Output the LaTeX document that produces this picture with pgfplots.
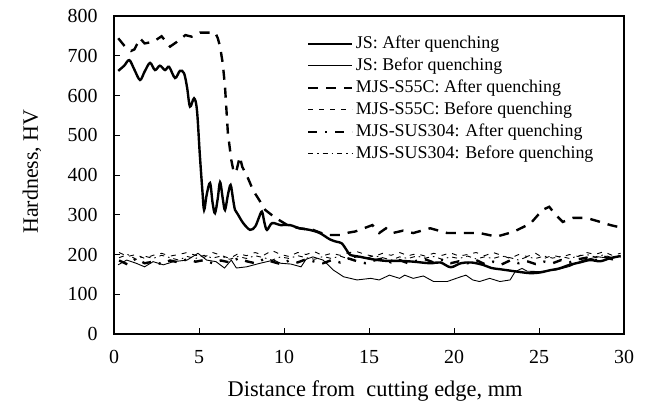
\documentclass[border=0pt]{standalone}
\usepackage{fontspec}
\setmainfont{Liberation Serif}
\usepackage{pgfplots}
\pgfplotsset{compat=1.18}
\begin{document}
\begin{tikzpicture}
\begin{axis}[
 at={(0,0)}, anchor=south west,
 scale only axis, width=510bp, height=318bp,
 xmin=0, xmax=30, ymin=0, ymax=800,
 xtick={0,5,...,30}, ytick={0,100,...,800},
 tick align=inside, xtick pos=bottom, ytick pos=left,
 major tick length=6bp,
 axis line style={line width=1.1pt},
 tick style={line width=1pt, black},
 /pgf/number format/assume math mode=true,
 ticklabel style={font=\fontsize{20}{24}\selectfont},
 xticklabel style={yshift=-13bp},
 yticklabel style={xshift=-13bp},
 xlabel={Distance from\ \ cutting edge, mm},
 ylabel={Hardness, HV},
 every axis x label/.style={at={(axis description cs:0.512,-0.179)}, anchor=center, font=\fontsize{22.5}{27}\selectfont},
 every axis y label/.style={at={(axis description cs:-0.161,0.511)}, rotate=90, anchor=center, font=\fontsize{22}{26}\selectfont},
 legend style={at={(rel axis cs:0.378,0.948)}, anchor=north west, draw=none, fill=none,
   font=\fontsize{18}{21.6}\selectfont, inner sep=0pt,
   nodes={text height=13bp, text depth=4bp, inner sep=2.5bp}},
 legend cell align=left,
 legend image code/.code={\draw[#1] (0bp,0bp) -- (44bp,0bp);},
]
\addplot[black, line width=2.4pt, smooth, tension=0.55] coordinates {
(0.25,662)(0.6,675)(0.9,689)(1.2,665)(1.53,639)(1.8,660)(2.12,682)(2.41,664)(2.7,675)(3.0,664)(3.24,672)(3.59,644)(3.88,662)(4.12,656)(4.3,620)(4.47,572)(4.71,593)(4.88,563)(5.05,450)(5.2,360)(5.3,312)(5.45,350)(5.65,380)(5.8,330)(5.94,304)(6.1,340)(6.24,382)(6.4,340)(6.53,312)(6.7,350)(6.86,375)(7.0,340)(7.12,312)(7.3,300)(7.6,279)(8.0,262)(8.3,270)(8.5,290)(8.7,308)(8.85,280)(9.0,262)(9.3,279)(9.8,274)(10.35,274)(10.9,266)(11.5,262)(12.1,254)(12.7,238)(13.1,232)(13.4,228)(13.7,210)(13.9,199)(14.5,194)(15.2,188)(16.0,184)(16.8,184)(17.6,182)(18.6,178)(19.2,180)(19.8,168)(20.4,178)(21.0,180)(21.7,174)(22.2,166)(22.7,163)(23.2,160)(23.7,157)(24.5,153)(25.1,155)(25.6,160)(26.2,165)(26.8,174)(27.4,180)(28.0,186)(28.6,183)(29.2,191)(29.8,196)};
\addlegendentry{JS: After quenching}
\addplot[black, line width=0.9pt] coordinates {
(0.24,174)(0.75,186)(1.3,178)(1.8,169)(2.3,182)(2.9,174)(3.5,182)(4.3,186)(4.94,203)(5.45,186)(6.0,182)(6.5,166)(6.9,186)(7.2,166)(7.8,169)(8.6,178)(9.4,186)(9.8,178)(10.4,176)(11.0,169)(11.3,188)(11.7,194)(12.3,186)(12.9,161)(13.5,144)(14.3,136)(15.1,140)(15.6,136)(16.2,148)(16.8,140)(17.1,148)(17.6,140)(18.2,146)(18.8,132)(19.6,132)(20.4,144)(20.7,148)(21.1,136)(21.5,132)(22.1,140)(22.7,132)(23.3,136)(23.6,157)(24.0,165)(24.3,158)(25.0,157)(26.0,161)(26.8,170)(27.6,186)(28.5,194)(29.3,190)(29.8,197)};
\addlegendentry{JS: Befor quenching}
\addplot[black, line width=2.4pt, dash pattern=on 10bp off 8bp] coordinates {
(0.25,744)(0.65,723)(1.0,712)(1.2,716)(1.53,744)(1.8,731)(2.3,735)(2.8,749)(3.3,723)(3.7,735)(4.2,752)(4.57,748)(5.06,758)(5.5,758)(5.94,759)(6.1,745)(6.24,723)(6.4,680)(6.53,622)(6.7,505)(6.9,438)(7.05,405)(7.2,410)(7.4,446)(7.55,420)(7.8,400)(8.2,360)(8.5,340)(8.9,312)(9.5,292)(10.2,274)(10.9,266)(11.7,262)(12.5,249)(13.3,249)(13.8,255)(14.2,258)(14.7,266)(15.2,274)(15.6,254)(16.0,266)(16.4,254)(17.0,260)(17.6,254)(18.6,266)(19.6,254)(20.5,254)(21.5,254)(22.5,245)(23.5,257)(24.5,278)(25.2,312)(25.6,320)(26.0,299)(26.4,282)(27.0,292)(27.8,292)(28.6,282)(29.2,274)(29.8,268)};
\addlegendentry{MJS-S55C: After quenching}
\addplot[black, line width=0.9pt, dash pattern=on 5bp off 6bp] coordinates {
(0.3,205)(0.8,195)(1.3,200)(1.8,190)(2.3,198)(2.8,203)(3.3,196)(3.8,200)(4.3,205)(4.8,198)(5.3,193)(5.8,205)(6.3,198)(6.8,190)(7.3,202)(7.8,197)(8.3,205)(8.8,198)(9.3,210)(9.8,200)(10.3,195)(10.8,205)(11.3,200)(11.8,207)(12.3,197)(12.8,203)(13.3,198)(13.8,205)(14.3,207)(14.8,200)(15.3,195)(15.8,203)(16.3,198)(16.8,205)(17.3,197)(17.8,202)(18.3,196)(18.8,203)(19.3,198)(19.8,204)(20.3,196)(20.8,200)(21.3,205)(21.8,197)(22.3,205)(22.8,198)(23.3,190)(23.8,200)(24.3,195)(24.8,203)(25.3,190)(25.8,198)(26.3,193)(26.8,200)(27.3,195)(27.8,205)(28.3,200)(28.8,207)(29.3,198)(29.8,203)};
\addlegendentry{MJS-S55C: Before quenching}
\addplot[black, line width=2.4pt, dash pattern=on 9bp off 8bp on 2bp off 8bp] coordinates {
(0.3,185)(0.8,175)(1.3,190)(1.8,178)(2.3,182)(2.8,176)(3.3,185)(3.8,180)(4.3,188)(4.8,182)(5.3,186)(5.8,178)(6.3,185)(6.8,180)(7.3,190)(7.8,183)(8.3,178)(8.8,188)(9.3,182)(9.8,176)(10.3,185)(10.8,180)(11.3,188)(11.8,182)(12.3,178)(12.8,186)(13.3,180)(13.8,190)(14.3,183)(14.8,178)(15.3,185)(15.8,190)(16.3,180)(16.8,186)(17.3,178)(17.8,184)(18.3,188)(18.8,180)(19.3,186)(19.8,178)(20.3,183)(20.8,178)(21.3,186)(21.8,176)(22.3,182)(22.8,175)(23.3,185)(23.8,178)(24.3,183)(24.8,176)(25.3,182)(25.8,178)(26.3,186)(26.8,180)(27.3,188)(27.8,192)(28.3,185)(28.8,195)(29.3,188)(29.8,194)};
\addlegendentry{MJS-SUS304: After quenching}
\addplot[black, line width=0.9pt, dash pattern=on 5bp off 4bp on 1.5bp off 4bp] coordinates {
(0.3,192)(0.8,200)(1.3,188)(1.8,196)(2.3,190)(2.8,198)(3.3,192)(3.8,186)(4.3,195)(4.8,190)(5.3,198)(5.8,191)(6.3,196)(6.8,188)(7.3,195)(7.8,190)(8.3,197)(8.8,192)(9.3,186)(9.8,194)(10.3,190)(10.8,197)(11.3,192)(11.8,188)(12.3,195)(12.8,190)(13.3,196)(13.8,189)(14.3,194)(14.8,190)(15.3,197)(15.8,192)(16.3,186)(16.8,194)(17.3,190)(17.8,196)(18.3,191)(18.8,195)(19.3,188)(19.8,194)(20.3,190)(20.8,196)(21.3,189)(21.8,194)(22.3,190)(22.8,196)(23.3,192)(23.8,186)(24.3,194)(24.8,190)(25.3,196)(25.8,191)(26.3,195)(26.8,190)(27.3,196)(27.8,200)(28.3,194)(28.8,199)(29.3,192)(29.8,198)};
\addlegendentry{MJS-SUS304: Before quenching}
\end{axis}
\pgfresetboundingbox
\useasboundingbox (-114bp,-68bp) rectangle (535bp,334bp);
\end{tikzpicture}
\end{document}
